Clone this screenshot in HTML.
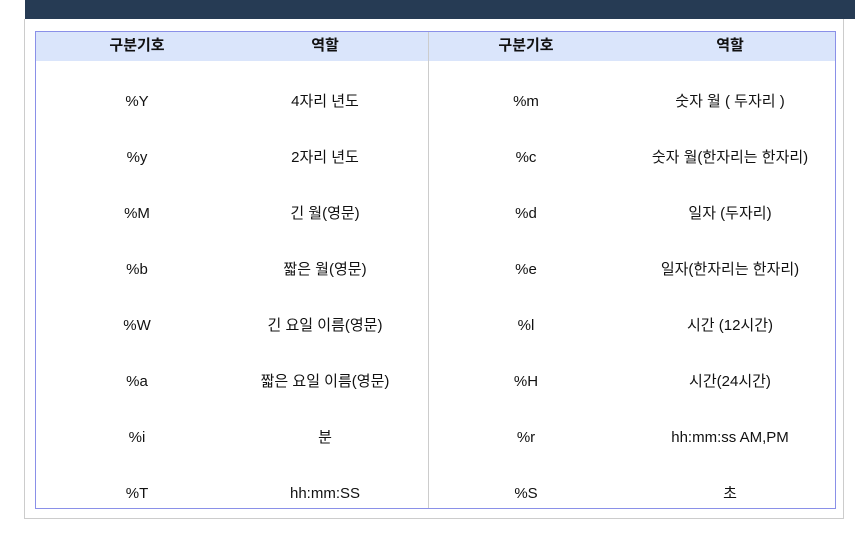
<!DOCTYPE html>
<html><head><meta charset="utf-8"><style>
body{margin:0;width:855px;height:540px;background:#fff;position:relative;overflow:hidden;font-family:"Liberation Sans","Noto Sans CJK KR",sans-serif;font-size:15px;color:#111}
.top{position:absolute;left:25px;top:0;width:830px;height:19px;background:#263b54}
.panel{position:absolute;left:24px;top:19px;width:818px;height:499px;border:1px solid #ccc;border-top:none}
.tbl{position:absolute;left:35px;top:31px;width:799px;height:476px;border:1px solid #8a90e8}
.hdr{position:absolute;left:0;top:0;width:799px;height:29px;background:#dae5fb}
.div{position:absolute;left:392px;top:0;width:1px;height:476px;background:#ccc}
.c{position:absolute;transform:translate(-50%,-50%);white-space:nowrap;line-height:18px}
.h{font-weight:bold}
</style></head><body>
<div class="top"></div>
<div class="panel"></div>
<div class="tbl">
<div class="hdr"></div>
<div class="div"></div>
</div>
<div id="cells"></div>
<script>
const codesL=["%Y","%y","%M","%b","%W","%a","%i","%T"];
const rolesL=["4자리 년도","2자리 년도","긴 월(영문)","짧은 월(영문)","긴 요일 이름(영문)","짧은 요일 이름(영문)","분","hh:mm:SS"];
const codesR=["%m","%c","%d","%e","%l","%H","%r","%S"];
const rolesR=["숫자 월 ( 두자리 )","숫자 월(한자리는 한자리)","일자 (두자리)","일자(한자리는 한자리)","시간 (12시간)","시간(24시간)","hh:mm:ss AM,PM","초"];
const xs=[137,325,526,730];
const wrap=document.getElementById('cells');
function add(t,x,y,cls,name){const d=document.createElement('div');d.className='c '+cls;d.style.left=x+'px';d.style.top=y+'px';d.textContent=t;


wrap.appendChild(d);}
["구분기호","역할","구분기호","역할"].forEach((t,i)=>add(t,xs[i],46,'h','header-cell'));
for(let i=0;i<8;i++){const y=102+56*i;
add(codesL[i],xs[0],y,'','code-cell');add(rolesL[i],xs[1],y,'','role-cell');
add(codesR[i],xs[2],y,'','code-cell');add(rolesR[i],xs[3],y,'','role-cell');}
</script>
</body></html>
